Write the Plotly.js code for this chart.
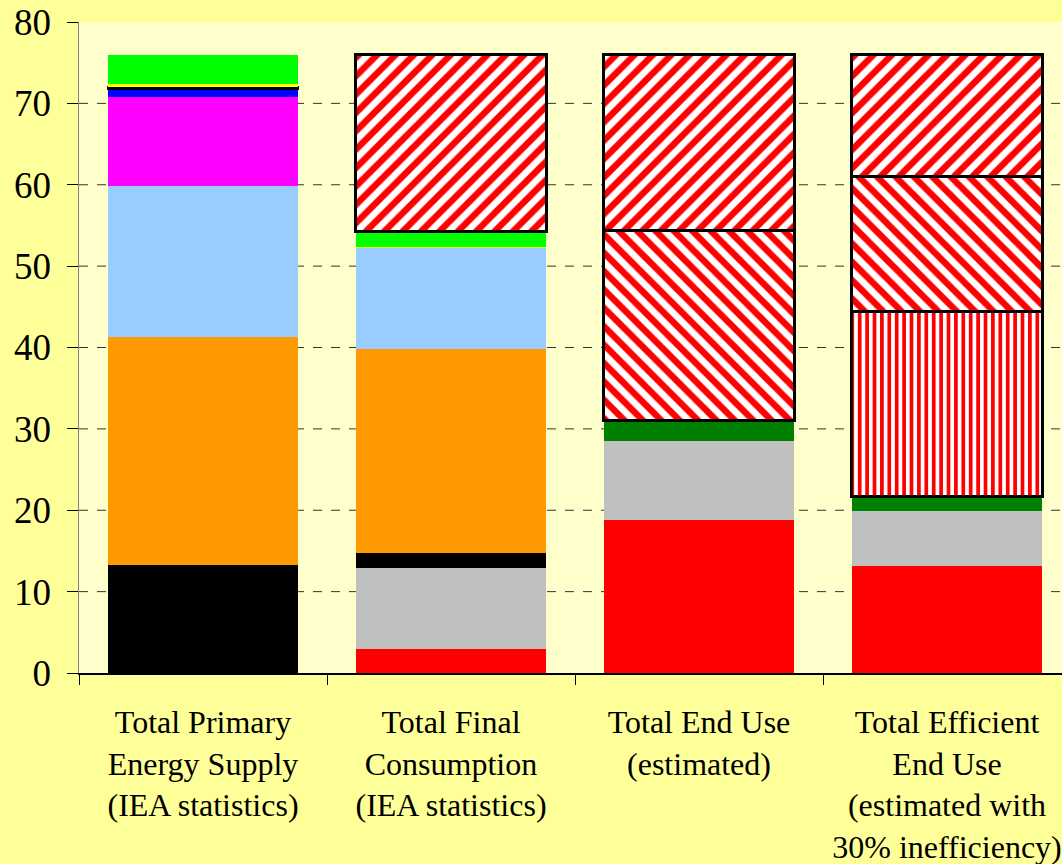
<!DOCTYPE html>
<html>
<head>
<meta charset="utf-8">
<script src="https://cdn.plot.ly/plotly-3.0.1.min.js"></script>
<style>
html,body{margin:0;padding:0;background:#FFFF99;overflow:hidden;width:1062px;height:864px;}
#chart{width:1080px;height:864px;}
</style>
</head>
<body>
<div id="chart"></div>
<script>
const categories = [
  "Total Primary<br>Energy Supply<br>(IEA statistics)",
  "Total Final<br>Consumption<br>(IEA statistics)",
  "Total End Use<br>(estimated)",
  "Total Efficient<br>End Use<br>(estimated with<br>30% inefficiency)"
];
// segment values (stacked from bottom), null = not present
const redSeg       = [null, 3.0, 18.8, 13.15];
const graySeg      = [null, 9.9, 9.7, 6.8];
const coalSeg      = [13.3, 1.85, null, null];
const orangeSeg    = [28.0, 25.05, null, null];
const lightBlueSeg = [18.5, 12.4, null, null];
const magentaSeg   = [11.0, null, null, null];
const blueSeg      = [0.9, null, null, null];
const thinBlackSeg = [0.3, null, null, null];
const yellowSeg    = [0.4, 0.1, null, null];
const greenSeg     = [3.6, 2.0, null, null];
const darkGreenSeg = [null, null, 2.5, 1.7];
const vertHatchSeg = [null, null, null, 22.8];
const backHatchSeg = [null, null, 23.4, 16.6];
const fwdHatchSeg  = [null, 21.7, 21.6, 15.0];
const yTicks = [0, 10, 20, 30, 40, 50, 60, 70, 80];
const gridVals = [10, 20, 30, 40, 50, 60, 70];

function solid(y, color, line) {
  return {type: 'bar', x: categories, y: y,
    marker: {color: color, line: line || {width: 0}},
    hoverinfo: 'skip'};
}
function hatch(y, shape, size, sol) {
  return {type: 'bar', x: categories, y: y,
    marker: {color: 'white', line: {color: 'black', width: 3},
      pattern: {shape: shape, fillmode: 'replace', bgcolor: 'white', fgcolor: '#FF0000', size: size, solidity: sol}},
    hoverinfo: 'skip'};
}
const traces = [
  solid(redSeg, '#FF0000'),
  solid(graySeg, '#C0C0C0'),
  solid(coalSeg, '#000000'),
  solid(orangeSeg, '#FF9900'),
  solid(lightBlueSeg, '#99CCFF'),
  solid(magentaSeg, '#FF00FF'),
  solid(blueSeg, '#0000FF'),
  solid(thinBlackSeg, '#000000', {color: '#000000', width: 1.5}),
  solid(yellowSeg, '#FFFF00'),
  solid(greenSeg, '#00FF00'),
  solid(darkGreenSeg, '#008000'),
  hatch(vertHatchSeg, '|', 7.4, 0.5),
  hatch(backHatchSeg, '\\', 13, 0.5),
  hatch(fwdHatchSeg, '/', 13, 0.5)
];
const shapes = gridVals.map(v => ({type: 'line', xref: 'paper', x0: 0, x1: 1, yref: 'y', y0: v, y1: v,
  line: {color: '#333333', width: 1, dash: 'dash'}, layer: 'below'}));
const layout = {
  width: 1080, height: 864,
  margin: {l: 79, r: 9, t: 22, b: 191},
  paper_bgcolor: '#FFFF99', plot_bgcolor: '#FFFFCC',
  barmode: 'stack', bargap: 0.23, showlegend: false,
  font: {family: 'Liberation Serif, Times New Roman, serif', color: '#000000'},
  xaxis: {type: 'category', showgrid: false, showline: true, linecolor: '#000000', linewidth: 1.5,
    ticks: 'outside', tickson: 'boundaries', ticklen: 10, tickcolor: '#000000',
    tickfont: {size: 32, family: 'Liberation Serif, serif'}, ticklabelstandoff: 20, fixedrange: true},
  yaxis: {range: [0, 80], tickvals: yTicks, showgrid: false, zeroline: false, showline: true,
    linecolor: '#808080', linewidth: 1.5, ticks: 'outside', ticklen: 11, tickcolor: '#000000',
    tickfont: {size: 37, family: 'Liberation Serif, serif'}, ticklabelstandoff: 8, fixedrange: true},
  shapes: shapes
};
Plotly.newPlot('chart', traces, layout, {staticPlot: true, displayModeBar: false});
</script>
</body>
</html>
